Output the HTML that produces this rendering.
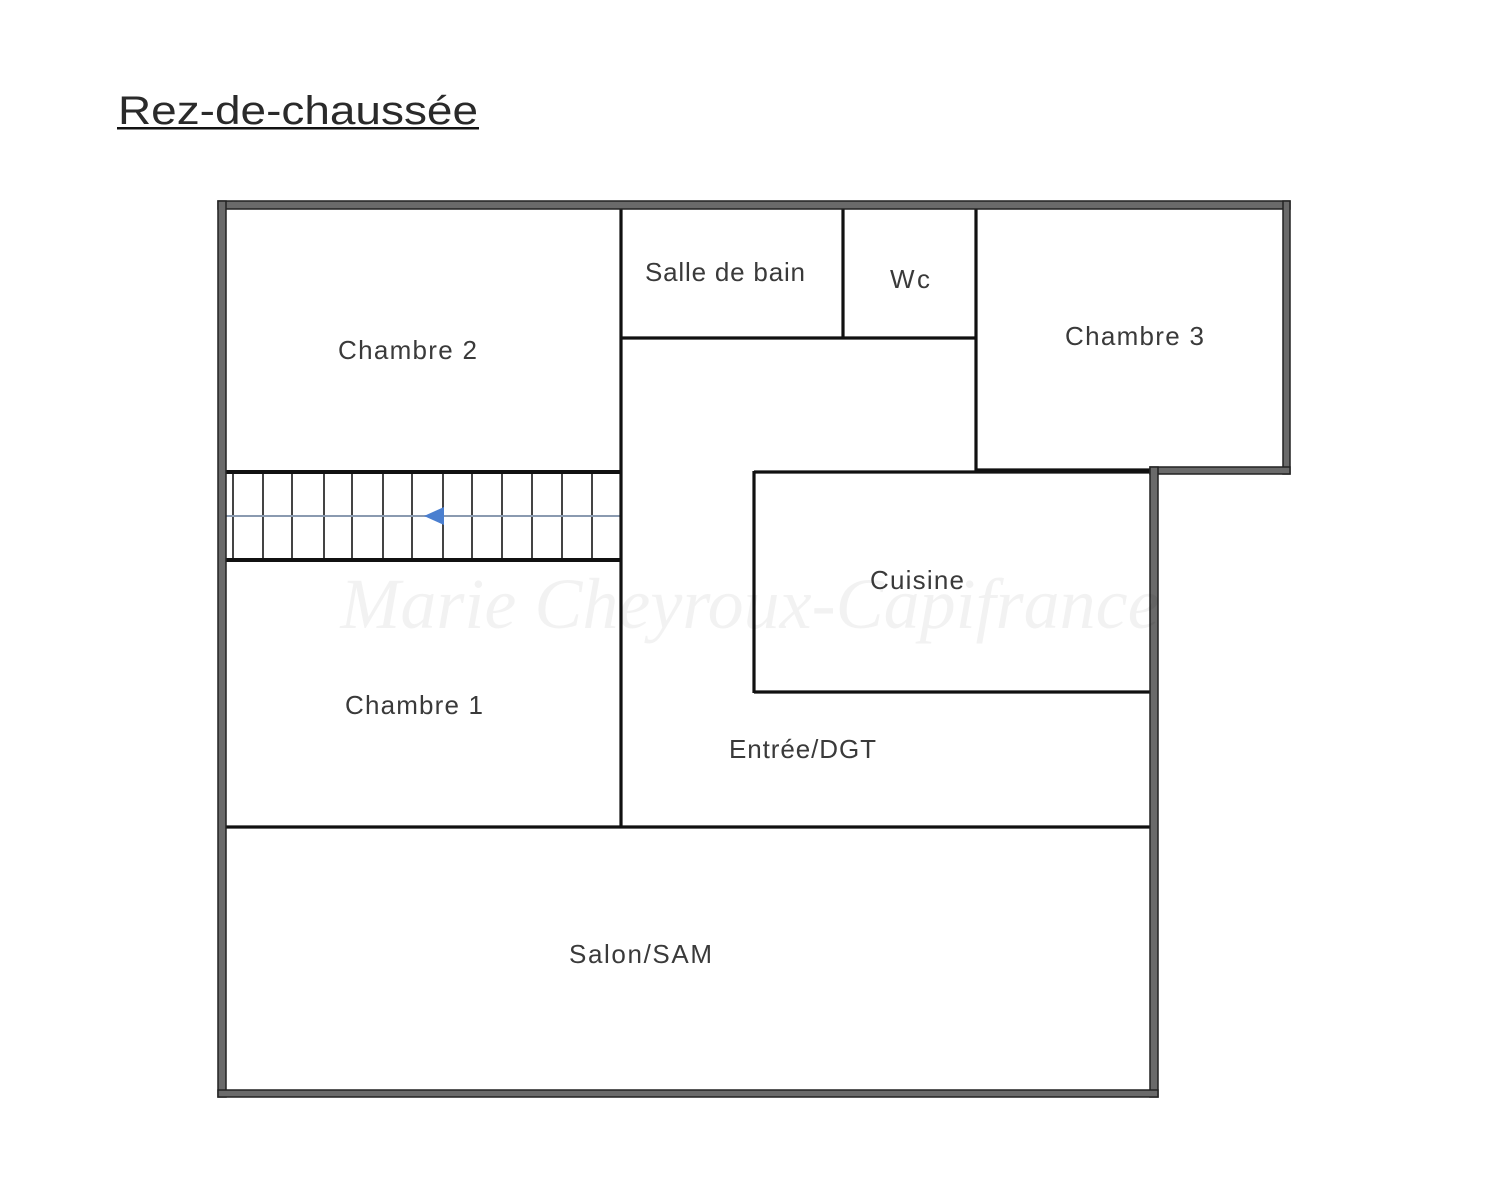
<!DOCTYPE html>
<html><head><meta charset="utf-8"><style>
html,body{margin:0;padding:0;background:#fff;}
svg{display:block}
</style></head><body>
<svg width="1500" height="1200" viewBox="0 0 1500 1200" xmlns="http://www.w3.org/2000/svg">
<rect width="1500" height="1200" fill="#fff"/>
<text x="118" y="124" font-family="Liberation Sans, sans-serif" font-size="40" fill="#2a2a2a" textLength="360" lengthAdjust="spacingAndGlyphs">Rez-de-chaussée</text>
<rect x="117" y="127" width="362" height="2.5" fill="#111"/>

<g stroke="#444" stroke-width="2">
<line x1="233" y1="472" x2="233" y2="560"/><line x1="263" y1="472" x2="263" y2="560"/>
<line x1="292" y1="472" x2="292" y2="560"/><line x1="324" y1="472" x2="324" y2="560"/>
<line x1="352" y1="472" x2="352" y2="560"/><line x1="383" y1="472" x2="383" y2="560"/>
<line x1="412" y1="472" x2="412" y2="560"/><line x1="443" y1="472" x2="443" y2="560"/>
<line x1="472" y1="472" x2="472" y2="560"/><line x1="502" y1="472" x2="502" y2="560"/>
<line x1="532" y1="472" x2="532" y2="560"/><line x1="562" y1="472" x2="562" y2="560"/>
<line x1="592" y1="472" x2="592" y2="560"/>
</g>
<line x1="222" y1="516" x2="621" y2="516" stroke="#8a9ab0" stroke-width="2"/>
<polygon points="424,516 444,507 444,525" fill="#4a7fd0"/>

<g stroke="#111" stroke-width="3.2" fill="none">
<line x1="621" y1="208" x2="621" y2="828"/>
<line x1="222" y1="472" x2="621" y2="472" stroke-width="4"/>
<line x1="222" y1="560" x2="621" y2="560" stroke-width="4"/>
<line x1="621" y1="338" x2="976" y2="338"/>
<line x1="843" y1="208" x2="843" y2="338"/>
<line x1="976" y1="208" x2="976" y2="471"/>
<line x1="976" y1="470" x2="1152" y2="470"/>
<line x1="754" y1="472" x2="1152" y2="472"/>
<line x1="754" y1="471" x2="754" y2="693"/>
<line x1="754" y1="692" x2="1152" y2="692"/>
<line x1="222" y1="827" x2="1152" y2="827"/>
</g>

<g fill="#6a6a6a" stroke="#222" stroke-width="1.5">
<rect x="218" y="201" width="1072" height="8"/>
<rect x="218" y="201" width="8" height="896"/>
<rect x="1283" y="201" width="7" height="273"/>
<rect x="1150" y="467" width="140" height="7"/>
<rect x="1150" y="467" width="8" height="630"/>
<rect x="218" y="1090" width="940" height="7"/>
</g>

<g font-family="Liberation Sans, DejaVu Sans, sans-serif" font-size="26" fill="#3a3a3a" lengthAdjust="spacingAndGlyphs">
<text x="338" y="359" textLength="139">Chambre 2</text>
<text x="645" y="281" textLength="160">Salle de bain</text>
<text x="890" y="288" textLength="40">Wc</text>
<text x="1065" y="345" textLength="139">Chambre 3</text>
<text x="870" y="589" textLength="94">Cuisine</text>
<text x="345" y="714" textLength="138">Chambre 1</text>
<text x="729" y="758" textLength="147">Entrée/DGT</text>
<text x="569" y="963" textLength="143">Salon/SAM</text>
</g>
<text x="750" y="628" text-anchor="middle" font-family="Liberation Serif, serif" font-style="italic" font-size="72" fill="#000" fill-opacity="0.05">Marie Cheyroux-Capifrance</text>
</svg>
</body></html>
